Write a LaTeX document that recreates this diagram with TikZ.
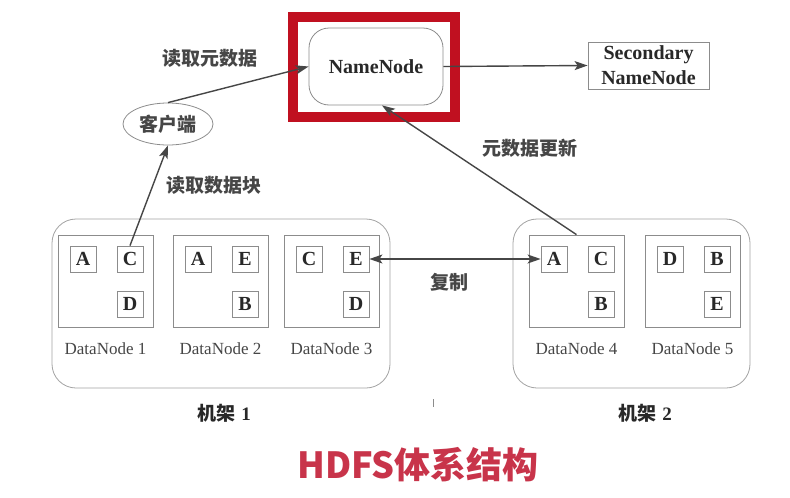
\documentclass[tikz,border=0pt]{standalone}
\usepackage{fontspec}
\setmainfont{Liberation Serif}
\newfontfamily\cjk{Noto Sans CJK SC}
\usetikzlibrary{shapes.geometric,arrows.meta}
\definecolor{hred}{RGB}{192,16,32}
\definecolor{tred}{RGB}{200,52,74}
\definecolor{ln}{RGB}{70,70,70}
\definecolor{bx}{RGB}{140,140,140}
\definecolor{tx}{RGB}{40,40,40}
\definecolor{zx}{RGB}{70,70,70}
\tikzset{
  arr/.style={draw=ln, line width=1.4pt, -{Stealth[length=13pt,width=9pt,inset=3pt]}},
  darr/.style={draw=ln, line width=1.4pt, {Stealth[length=13pt,width=9pt,inset=3pt]}-{Stealth[length=13pt,width=9pt,inset=3pt]}},
  blk/.style={draw=bx, line width=0.8pt, minimum width=26pt, minimum height=26pt, inner sep=0pt, font=\fontsize{20}{20}\selectfont\bfseries, text=tx},
  dn/.style={draw=bx, line width=0.8pt, minimum width=95pt, minimum height=92pt, inner sep=0pt},
  rack/.style={draw=bx!80, line width=0.8pt, rounded corners=24pt, minimum height=169pt, inner sep=0pt},
  dnl/.style={font=\fontsize{17}{17}\selectfont, text=ln},
  zh/.style={font=\cjk\fontsize{19}{19}\selectfont\bfseries, text=zx},
  bold/.style={font=\fontsize{20}{25}\selectfont\bfseries, text=tx, align=center}
}
\begin{document}
\begin{tikzpicture}[x=1pt,y=-1pt]
\path[use as bounding box, fill=white] (0,0) rectangle (790,498);
% racks
\node[rack, minimum width=338pt] (r1) at (221,303.5) {};
\node[rack, minimum width=237pt] (r2) at (631.5,303.5) {};
% datanodes
\foreach \n/\x in {1/58,2/173,3/284,4/529,5/645}{
  \node[dn] (dn\n) at (\x+47.5,281) {};
  \node[dnl] (dnl\n) at (\x+47.5,349) {DataNode \n};
}
% blocks
\node[blk] (b1a) at (83,259) {A};
\node[blk] (b1c) at (130,259) {C};
\node[blk] (b1d) at (130,304) {D};
\node[blk] (b2a) at (198,259) {A};
\node[blk] (b2e) at (245,259) {E};
\node[blk] (b2b) at (245,304) {B};
\node[blk] (b3c) at (309,259) {C};
\node[blk] (b3e) at (356,259) {E};
\node[blk] (b3d) at (356,304) {D};
\node[blk] (b4a) at (554,259) {A};
\node[blk] (b4c) at (601,259) {C};
\node[blk] (b4b) at (601,304) {B};
\node[blk] (b5d) at (670,259) {D};
\node[blk] (b5b) at (717,259) {B};
\node[blk] (b5e) at (717,304) {E};
% rack labels
\node[text=tx] (rl1) at (224,413) {{\cjk\fontsize{19}{19}\selectfont\bfseries 机架}\hspace{6pt}{\fontsize{19}{19}\selectfont\bfseries 1}};
\node[text=tx] (rl2) at (645,413) {{\cjk\fontsize{19}{19}\selectfont\bfseries 机架}\hspace{6pt}{\fontsize{19}{19}\selectfont\bfseries 2}};
% red highlight
\node[draw=hred, line width=10pt, minimum width=162pt, minimum height=100pt, inner sep=0pt] (hl) at (374,67) {};
% namenode
\node[draw=bx, line width=0.8pt, rounded corners=20pt, minimum width=134pt, minimum height=77pt, inner sep=0pt, bold] (nn) at (376,66.5) {NameNode};
% secondary
\node[draw=bx, line width=0.8pt, minimum width=121pt, minimum height=47pt, inner sep=0pt, bold] (snn) at (648.5,65.5) {Secondary\\NameNode};
% client
\node[ellipse, draw=bx, line width=0.8pt, minimum width=90pt, minimum height=42pt, inner sep=0pt, zh] (cl) at (168,124) {客户端};
% arrows
\draw[arr] (nn.east) -- (snn.west);
\draw[arr] (cl.north) -- (nn.west);
\draw[arr] (b1c.north) -- (cl.south);
\draw[arr] (dn4.north) -- ([xshift=6pt]nn.south);
\draw[darr] (b3e.east) -- (b4a.west);
% labels
\node[zh] (l1) at (210,58) {读取元数据};
\node[zh] (l2) at (214,185) {读取数据块};
\node[zh] (l3) at (530,148) {元数据更新};
\node[zh] (l4) at (449,282) {复制};
% tick
\draw[bx, line width=0.6pt] (433,399) -- (433,407);
% title
\node[font=\cjk\fontsize{36}{36}\selectfont\bfseries, text=tred] (title) at (418,465) {HDFS体系结构};
\end{tikzpicture}
\end{document}
